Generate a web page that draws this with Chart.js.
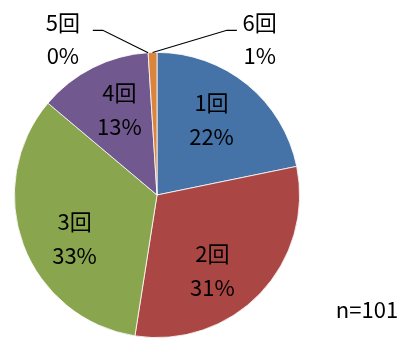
<!DOCTYPE html>
<html>
<head>
<meta charset="utf-8">
<script src="https://cdn.jsdelivr.net/npm/chart.js@4.4.0/dist/chart.umd.min.js"></script>
<style>
  html, body { margin: 0; padding: 0; background: #fff; }
  #wrap { width: 406px; height: 342px; position: relative; }
</style>
</head>
<body>
<div id="wrap"><canvas id="pie"></canvas></div>
<script>
const categories = ['1回', '2回', '3回', '4回', '5回', '6回'];
const counts = [22, 31, 34, 13, 0, 1];
const percentLabels = ['22%', '31%', '33%', '13%', '0%', '1%'];
const sampleNote = 'n=101';

const colors = ['#4572A7', '#AA4643', '#89A54E', '#71588F', '#4198AF', '#DB843D'];
const FONT = '22px "Noto Sans CJK JP", "Noto Sans", sans-serif';

// small angular nudges (degrees) so inside labels sit where the original put them
const labelNudge = [-3.5, 10, -7.5, 3, 0, 0];

// labels that sit outside the pie with a leader line (relative to pie top, in radius units)
const outside = {
  4: { tx: -0.66, ex: -0.38, side: -1 },
  5: { tx: 0.72, ex: 0.49, side: 1 }
};

const labelPlugin = {
  id: 'sliceLabels',
  afterDatasetsDraw(chart) {
    const ctx = chart.ctx;
    const arcs = chart.getDatasetMeta(0).data;
    ctx.save();
    ctx.font = FONT;
    ctx.fillStyle = '#000';
    ctx.textAlign = 'center';
    ctx.textBaseline = 'middle';
    arcs.forEach((arc, i) => {
      const r = arc.outerRadius;
      const mid = (arc.startAngle + arc.endAngle) / 2;
      if (outside[i]) {
        const o = outside[i];
        const px = arc.x + Math.cos(mid) * r;
        const py = arc.y + Math.sin(mid) * r;
        const topY = arc.y - r;
        const ey = topY - 0.155 * r;
        const ex = arc.x + o.ex * r;
        ctx.strokeStyle = '#000';
        ctx.lineWidth = 1.2;
        ctx.beginPath();
        ctx.moveTo(px, py);
        ctx.lineTo(ex, ey);
        ctx.lineTo(ex + o.side * 10, ey);
        ctx.stroke();
        const lx = arc.x + o.tx * r;
        ctx.fillText(categories[i], lx, topY - 0.21 * r);
        ctx.fillText(percentLabels[i], lx, topY + 0.025 * r);
        return;
      }
      const a = mid + labelNudge[i] * Math.PI / 180;
      const d = 0.655 * r;
      const lx = arc.x + Math.cos(a) * d;
      const ly = arc.y + Math.sin(a) * d;
      ctx.fillText(categories[i], lx, ly - 17);
      ctx.fillText(percentLabels[i], lx, ly + 17);
    });
    ctx.fillText(sampleNote, 367, 310);
    ctx.restore();
  }
};

new Chart(document.getElementById('pie'), {
  type: 'pie',
  data: {
    labels: categories,
    datasets: [{
      data: counts,
      backgroundColor: colors,
      borderColor: '#fff',
      borderWidth: 0.8
    }]
  },
  options: {
    responsive: true,
    maintainAspectRatio: false,
    animation: false,
    layout: { padding: { left: 14, right: 106, top: 52, bottom: 4 } },
    plugins: {
      legend: { display: false },
      tooltip: { enabled: false }
    }
  },
  plugins: [labelPlugin]
});
</script>
</body>
</html>
